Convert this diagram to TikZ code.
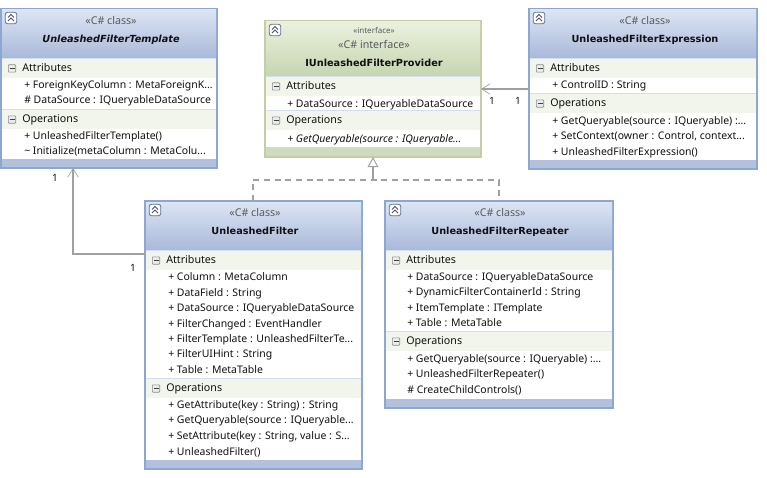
\documentclass[tikz,border=0pt]{standalone}
\usepackage{fontspec}
\setmainfont{Noto Sans}
\newfontfamily\titlefont{DejaVu Sans}
\usetikzlibrary{arrows.meta,calc}
\definecolor{blueedge}{HTML}{8CA8D0}
\definecolor{bluetop}{HTML}{DDE5F3}
\definecolor{bluebot}{HTML}{A9B9DA}
\definecolor{bluefoot}{HTML}{B3C1DF}
\definecolor{greenedge}{HTML}{C6CDA6}
\definecolor{greentop}{HTML}{EBF1DE}
\definecolor{greenbot}{HTML}{C6D5B0}
\definecolor{greenfoot}{HTML}{CFDBBC}
\definecolor{bandfill}{HTML}{F1F5EB}
\definecolor{rulecol}{HTML}{D5DEEE}
\definecolor{linkcol}{HTML}{A0A0A0}
\definecolor{textcol}{HTML}{111111}
\tikzset{
  x=0.75pt,y=-0.75pt,
  framebox/.style={draw,fill=white,line width=1pt,outer sep=0pt,inner sep=0pt,anchor=north west},
  member/.style={anchor=west,inner sep=0pt,text=textcol,text height=6.2pt,text depth=1.8pt,yshift=-0.3pt,font=\fontsize{7.85}{9}\selectfont},
  bandlabel/.style={member,font=\fontsize{8}{9}\selectfont},
  stereo/.style={inner sep=0pt,text=black!65,text height=6.2pt,text depth=1.8pt,yshift=-1pt,font=\fontsize{8}{9}\selectfont},
  stereosmall/.style={inner sep=0pt,text=black!65,font=\fontsize{6}{7}\selectfont},
  title/.style={inner sep=0pt,text=textcol,text height=6.2pt,text depth=1.8pt,yshift=-0.7pt,font=\titlefont\fontsize{7.3}{9}\selectfont\bfseries},
  mult/.style={inner sep=0pt,text=textcol,font=\fontsize{7.5}{9}\selectfont},
  link/.style={draw=linkcol,line width=0.85pt},
  assoc/.style={link,-{Straight Barb[length=6.5pt,width=8pt,line width=0.5pt]}},
  realize/.style={link,dash pattern=on 4.5pt off 3.5pt},
  genhead/.style={link,-{Triangle[open,fill=white,length=7.5pt,width=8pt,line width=0.7pt]}},
}
% \umlbox{name}{x}{y}{w}{h}{header height}{edge}{top}{bottom}
\newcommand{\umlbox}[9]{%
  \node[framebox,draw=#7,minimum width=#4*0.75pt,minimum height=#5*0.75pt] (#1) at (#2,#3) {};
  \shade[top color=#8,bottom color=#9] ($(#1.north west)+(1,1)$) rectangle ($(#1.north east)+(-1,#6)$);
}
% \boxfoot{name}{height}{colour}
\newcommand{\boxfoot}[3]{%
  \fill[#3] ($(#1.south west)+(1,-#2)$) rectangle ($(#1.south east)+(-1,-1)$);
}
% \sectionband{box}{name}{offset from top}{label}
\newcommand{\sectionband}[4]{%
  \draw[rulecol,line width=0.7pt] ($(#1.north west)+(1,#3-1)$) -- ($(#1.north east)+(-1,#3-1)$);
  \fill[bandfill] ($(#1.north west)+(1,#3)$) rectangle ($(#1.north east)+(-1,#3+19)$);
  \node[draw=black!45,fill=black!8,rounded corners=0.5pt,line width=0.5pt,minimum width=5.5pt,minimum height=5.5pt,inner sep=0pt] (#2) at ($(#1.north west)+(11,#3+9.5)$) {};
  \draw[black!75,line width=0.6pt] ($(#2.center)+(-2.5,0)$) -- ($(#2.center)+(2.5,0)$);
  \node[bandlabel] (#2t) at ($(#1.north west)+(21,#3+9.5)$) {#4};
}
% \collapser{box}{name}
\newcommand{\collapser}[2]{%
  \node[draw=blueedge!70!black,fill=white,rounded corners=1.5pt,line width=0.6pt,minimum width=8.5pt,minimum height=8.5pt,inner sep=0pt] (#2) at ($(#1.north west)+(10,9)$) {};
  \draw[blue!30!black!70,line width=0.6pt] ($(#2.center)+(-3,-0.5)$) -- ($(#2.center)+(0,-3.5)$) -- ($(#2.center)+(3,-0.5)$)
    ($(#2.center)+(-3,3)$) -- ($(#2.center)+(0,0)$) -- ($(#2.center)+(3,3)$);
}
\begin{document}
\begin{tikzpicture}
\useasboundingbox (0,0) rectangle (767,478);
\fill[white] (0,0) rectangle (767,478);

% Abstract template class
\umlbox{tmpl}{1}{9}{216}{159}{49}{blueedge}{bluetop}{bluebot}
\boxfoot{tmpl}{9}{bluefoot}
\sectionband{tmpl}{tmplA}{50}{Attributes}
\sectionband{tmpl}{tmplO}{101}{Operations}
\collapser{tmpl}{tmplC}
\node[stereo] (tmplS) at (111,20.5) {«C\# class»};
\node[title,font=\titlefont\fontsize{7.3}{9}\selectfont\bfseries\itshape] (tmplN) at (111,38.5) {UnleashedFilterTemplate};
\node[member] (tmpl1) at (24,85.5) {+ ForeignKeyColumn : MetaForeignK...};
\node[member] (tmpl2) at (24,100.5) {\# DataSource : IQueryableDataSource};
\node[member] (tmpl3) at (24,136.5) {+ UnleashedFilterTemplate()};
\node[member] (tmpl4) at (24,151.5) {\textasciitilde{} Initialize(metaColumn : MetaColu...};

% Provider interface
\umlbox{prov}{265}{21}{216}{136}{55}{greenedge}{greentop}{greenbot}
\boxfoot{prov}{10}{greenfoot}
\sectionband{prov}{provA}{56}{Attributes}
\sectionband{prov}{provO}{90}{Operations}
\collapser{prov}{provC}
\node[stereosmall] (provI) at (374,30) {«interface»};
\node[stereo] (provS) at (374,44.5) {«C\# interface»};
\node[title] (provN) at (374,62.5) {IUnleashedFilterProvider};
\node[member] (prov1) at (287,104.5) {+ DataSource : IQueryableDataSource};
\node[member,font=\fontsize{7.85}{9}\selectfont\itshape] (prov2) at (287,139.5) {+ GetQueryable(source : IQueryable...};

% Expression class
\umlbox{expr}{529}{9}{228}{160}{49}{blueedge}{bluetop}{bluebot}
\boxfoot{expr}{9}{bluefoot}
\sectionband{expr}{exprA}{50}{Attributes}
\sectionband{expr}{exprO}{85}{Operations}
\collapser{expr}{exprC}
\node[stereo] (exprS) at (645,20.5) {«C\# class»};
\node[title] (exprN) at (645,38.5) {UnleashedFilterExpression};
\node[member] (expr1) at (552,85.5) {+ ControlID : String};
\node[member] (expr2) at (552,121.5) {+ GetQueryable(source : IQueryable) :...};
\node[member] (expr3) at (552,136.5) {+ SetContext(owner : Control, context...};
\node[member] (expr4) at (552,152.5) {+ UnleashedFilterExpression()};

% Filter class
\umlbox{filt}{145}{201}{217}{268}{49}{blueedge}{bluetop}{bluebot}
\boxfoot{filt}{9}{bluefoot}
\sectionband{filt}{filtA}{50}{Attributes}
\sectionband{filt}{filtO}{178}{Operations}
\collapser{filt}{filtC}
\node[stereo] (filtS) at (255,212) {«C\# class»};
\node[title] (filtN) at (255,230.5) {UnleashedFilter};
\node[member] (filt1) at (168,277.5) {+ Column : MetaColumn};
\node[member] (filt2) at (168,293.5) {+ DataField : String};
\node[member] (filt3) at (168,308.5) {+ DataSource : IQueryableDataSource};
\node[member] (filt4) at (168,324.5) {+ FilterChanged : EventHandler};
\node[member] (filt5) at (168,339.5) {+ FilterTemplate : UnleashedFilterTe...};
\node[member] (filt6) at (168,354.5) {+ FilterUIHint : String};
\node[member] (filt7) at (168,370.5) {+ Table : MetaTable};
\node[member] (filt8) at (168,405.5) {+ GetAttribute(key : String) : String};
\node[member] (filt9) at (168,420.5) {+ GetQueryable(source : IQueryable...};
\node[member] (filt10) at (168,436.5) {+ SetAttribute(key : String, value : S...};
\node[member] (filt11) at (168,452.5) {+ UnleashedFilter()};

% Repeater class
\umlbox{rept}{385}{201}{228}{207}{49}{blueedge}{bluetop}{bluebot}
\boxfoot{rept}{9}{bluefoot}
\sectionband{rept}{reptA}{50}{Attributes}
\sectionband{rept}{reptO}{131}{Operations}
\collapser{rept}{reptC}
\node[stereo] (reptS) at (500,212) {«C\# class»};
\node[title] (reptN) at (500,230.5) {UnleashedFilterRepeater};
\node[member] (rept1) at (407,277.5) {+ DataSource : IQueryableDataSource};
\node[member] (rept2) at (407,292.5) {+ DynamicFilterContainerId : String};
\node[member] (rept3) at (407,308.5) {+ ItemTemplate : ITemplate};
\node[member] (rept4) at (407,323.5) {+ Table : MetaTable};
\node[member] (rept5) at (407,359.5) {+ GetQueryable(source : IQueryable) :...};
\node[member] (rept6) at (407,374.5) {+ UnleashedFilterRepeater()};
\node[member] (rept7) at (407,390.5) {\# CreateChildControls()};

% Associations
\coordinate (filtOut) at ($(filt.north west)+(0,53)$);
\coordinate (tmplIn) at ($(tmpl.south west)+(72,0)$);
\draw[assoc] (filtOut) -| (tmplIn);
\coordinate (exprOut) at ($(expr.north west)+(0,80)$);
\draw[assoc] (exprOut) -- (exprOut -| prov.east);

% Interface realisation
\coordinate (provIn) at ($(prov.south west)+(108,0)$);
\coordinate (joint) at ($(prov.south west)+(108,23)$);
\coordinate (filtUp) at ($(filt.north west)+(108,0)$);
\coordinate (reptUp) at ($(rept.north west)+(114,0)$);
\draw[realize] (filtUp) |- (joint) -| (reptUp);
\draw[genhead] (joint) -- (provIn);

% Multiplicities
\node[mult] (m1) at (55,178) {1};
\node[mult] (m2) at (133,268) {1};
\node[mult] (m3) at (492,101) {1};
\node[mult] (m4) at (518,101) {1};
\end{tikzpicture}
\end{document}
